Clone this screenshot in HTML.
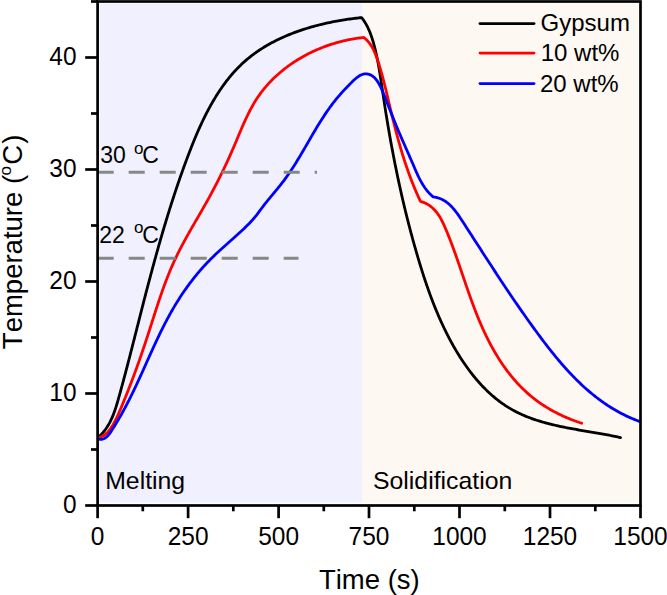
<!DOCTYPE html>
<html><head><meta charset="utf-8"><style>
html,body{margin:0;padding:0;background:#fff;width:667px;height:595px;overflow:hidden}
svg{display:block}
text{font-family:"Liberation Sans",sans-serif;fill:#000;font-kerning:none;font-feature-settings:"kern" 0}
</style></head><body>
<svg width="667" height="595" viewBox="0 0 667 595">
<rect x="0" y="0" width="667" height="595" fill="#fff"/>
<rect x="99.5" y="3.5" width="262.5" height="499" fill="#F0F0FE"/>
<rect x="362" y="3.5" width="276.5" height="499" fill="#FEF8F2"/>
<g font-size="23">
<text x="100.3" y="163.2">30</text><text x="133.9" y="153.6" font-size="17">o</text><text x="142.3" y="163.2">C</text>
<text x="99.3" y="243">22</text><text x="133.9" y="233.4" font-size="17">o</text><text x="142.3" y="243">C</text>
</g>
<g fill="none" stroke-width="2.8" stroke-linejoin="round" stroke-linecap="round">
<path stroke="#000" d="M98.80,436.80 L99.89,435.80 L100.94,434.77 L101.95,433.71 L102.92,432.63 L103.85,431.52 L104.75,430.38 L105.61,429.22 L106.44,428.03 L107.23,426.82 L107.99,425.60 L108.72,424.35 L109.43,423.08 L110.10,421.79 L110.75,420.48 L111.38,419.16 L111.98,417.82 L112.56,416.46 L113.12,415.10 L113.66,413.72 L114.18,412.32 L114.68,410.92 L115.17,409.51 L115.64,408.08 L116.11,406.65 L116.56,405.21 L116.99,403.77 L117.43,402.32 L117.85,400.86 L118.27,399.41 L118.68,397.95 L119.08,396.49 L119.49,395.02 L119.89,393.56 L120.30,392.10 L120.70,390.64 L121.10,389.18 L121.50,387.72 L121.89,386.26 L122.29,384.80 L122.68,383.34 L123.08,381.88 L123.47,380.42 L123.86,378.96 L124.25,377.49 L124.64,376.03 L125.02,374.57 L125.41,373.12 L125.79,371.66 L126.18,370.20 L126.56,368.74 L126.94,367.28 L127.32,365.82 L127.70,364.36 L128.08,362.90 L128.46,361.44 L128.84,359.98 L129.22,358.52 L129.59,357.06 L129.97,355.60 L130.34,354.15 L130.72,352.69 L131.09,351.23 L131.47,349.77 L131.84,348.31 L132.21,346.85 L132.58,345.39 L132.96,343.94 L133.33,342.48 L133.70,341.02 L134.07,339.56 L134.44,338.10 L134.81,336.65 L135.18,335.19 L135.55,333.73 L135.92,332.27 L136.29,330.82 L136.66,329.36 L137.03,327.90 L137.40,326.44 L137.77,324.98 L138.14,323.53 L138.51,322.07 L138.88,320.61 L139.25,319.15 L139.62,317.70 L139.99,316.24 L140.36,314.78 L140.73,313.32 L141.10,311.87 L141.48,310.41 L141.85,308.95 L142.22,307.49 L142.59,306.04 L142.97,304.58 L143.34,303.12 L143.72,301.66 L144.09,300.21 L144.47,298.75 L144.85,297.29 L145.22,295.84 L145.60,294.38 L145.98,292.92 L146.36,291.46 L146.74,290.01 L147.12,288.55 L147.50,287.09 L147.89,285.64 L148.27,284.18 L148.65,282.73 L149.04,281.27 L149.42,279.81 L149.81,278.36 L150.20,276.90 L150.59,275.45 L150.98,273.99 L151.37,272.54 L151.76,271.08 L152.15,269.63 L152.54,268.18 L152.94,266.72 L153.33,265.27 L153.73,263.82 L154.12,262.36 L154.52,260.91 L154.92,259.46 L155.32,258.01 L155.72,256.56 L156.13,255.11 L156.53,253.66 L156.94,252.21 L157.34,250.76 L157.75,249.31 L158.16,247.86 L158.57,246.41 L158.98,244.96 L159.39,243.52 L159.81,242.07 L160.22,240.62 L160.64,239.18 L161.06,237.73 L161.48,236.29 L161.90,234.84 L162.32,233.40 L162.74,231.96 L163.17,230.51 L163.60,229.07 L164.02,227.63 L164.45,226.19 L164.88,224.75 L165.32,223.31 L165.75,221.87 L166.19,220.43 L166.62,219.00 L167.06,217.56 L167.50,216.12 L167.95,214.69 L168.39,213.25 L168.84,211.82 L169.28,210.39 L169.73,208.95 L170.18,207.52 L170.64,206.09 L171.09,204.66 L171.55,203.23 L172.01,201.80 L172.47,200.38 L172.93,198.95 L173.39,197.52 L173.86,196.10 L174.32,194.67 L174.79,193.25 L175.27,191.83 L175.74,190.41 L176.21,188.98 L176.69,187.56 L177.17,186.15 L177.65,184.73 L178.14,183.31 L178.62,181.89 L179.11,180.48 L179.60,179.07 L180.09,177.65 L180.58,176.24 L181.08,174.83 L181.58,173.42 L182.08,172.01 L182.58,170.60 L183.09,169.20 L183.59,167.79 L184.10,166.39 L184.62,164.98 L185.13,163.58 L185.65,162.18 L186.17,160.78 L186.69,159.38 L187.21,157.98 L187.74,156.59 L188.26,155.19 L188.80,153.80 L189.33,152.40 L189.87,151.01 L190.41,149.62 L190.95,148.23 L191.49,146.84 L192.04,145.46 L192.60,144.07 L193.15,142.69 L193.72,141.31 L194.28,139.92 L194.85,138.55 L195.43,137.17 L196.01,135.79 L196.59,134.42 L197.18,133.04 L197.78,131.67 L198.38,130.30 L198.99,128.93 L199.60,127.57 L200.22,126.20 L200.84,124.84 L201.48,123.48 L202.11,122.12 L202.76,120.76 L203.41,119.40 L204.07,118.05 L204.74,116.70 L205.41,115.35 L206.09,114.00 L206.78,112.66 L207.48,111.32 L208.19,109.98 L208.90,108.64 L209.62,107.31 L210.35,105.99 L211.09,104.67 L211.83,103.35 L212.58,102.04 L213.35,100.73 L214.12,99.43 L214.90,98.14 L215.68,96.85 L216.48,95.56 L217.29,94.28 L218.10,93.01 L218.93,91.75 L219.76,90.49 L220.60,89.24 L221.46,88.00 L222.32,86.77 L223.19,85.54 L224.07,84.32 L224.97,83.12 L225.87,81.91 L226.78,80.72 L227.70,79.54 L228.63,78.37 L229.58,77.21 L230.53,76.05 L231.49,74.91 L232.47,73.78 L233.45,72.66 L234.45,71.55 L235.46,70.45 L236.48,69.36 L237.51,68.29 L238.55,67.22 L239.60,66.17 L240.67,65.13 L241.74,64.11 L242.83,63.09 L243.93,62.09 L245.04,61.11 L246.16,60.13 L247.30,59.17 L248.44,58.23 L249.60,57.29 L250.77,56.37 L251.94,55.46 L253.13,54.57 L254.33,53.68 L255.54,52.81 L256.76,51.96 L257.99,51.11 L259.23,50.28 L260.47,49.45 L261.73,48.65 L263.00,47.85 L264.27,47.06 L265.55,46.29 L266.85,45.53 L268.15,44.78 L269.45,44.04 L270.77,43.32 L272.09,42.60 L273.42,41.90 L274.76,41.21 L276.11,40.53 L277.46,39.86 L278.82,39.20 L280.19,38.55 L281.56,37.92 L282.94,37.29 L284.32,36.68 L285.72,36.08 L287.11,35.48 L288.51,34.90 L289.92,34.33 L291.33,33.77 L292.75,33.22 L294.17,32.68 L295.60,32.15 L297.03,31.63 L298.47,31.12 L299.91,30.62 L301.35,30.13 L302.80,29.65 L304.25,29.18 L305.70,28.72 L307.16,28.27 L308.62,27.83 L310.08,27.39 L311.55,26.97 L313.02,26.56 L314.49,26.15 L315.96,25.76 L317.43,25.37 L318.91,24.99 L320.39,24.63 L321.86,24.27 L323.34,23.92 L324.82,23.57 L326.31,23.24 L327.79,22.91 L329.27,22.60 L330.75,22.29 L332.23,21.99 L333.72,21.70 L335.20,21.41 L336.68,21.14 L338.16,20.87 L339.64,20.61 L341.12,20.36 L342.60,20.11 L344.07,19.88 L345.55,19.65 L347.02,19.43 L348.49,19.21 L349.96,19.00 L351.42,18.80 L352.89,18.61 L354.35,18.42 L355.80,18.25 L357.26,18.07 L358.71,17.91 L360.16,17.75 L361.60,17.60 L362.50,18.76 L363.37,19.94 L364.19,21.14 L364.98,22.37 L365.73,23.62 L366.45,24.89 L367.14,26.17 L367.80,27.48 L368.42,28.80 L369.02,30.13 L369.60,31.48 L370.14,32.85 L370.67,34.22 L371.17,35.61 L371.65,37.01 L372.11,38.42 L372.56,39.83 L372.99,41.25 L373.40,42.68 L373.80,44.12 L374.19,45.56 L374.57,47.00 L374.94,48.45 L375.29,49.89 L375.64,51.35 L375.98,52.80 L376.31,54.26 L376.63,55.73 L376.94,57.19 L377.24,58.66 L377.53,60.13 L377.82,61.60 L378.10,63.08 L378.38,64.56 L378.64,66.04 L378.91,67.52 L379.16,69.00 L379.41,70.49 L379.66,71.98 L379.90,73.47 L380.14,74.96 L380.38,76.45 L380.61,77.94 L380.84,79.44 L381.06,80.93 L381.29,82.43 L381.51,83.93 L381.73,85.42 L381.95,86.92 L382.17,88.42 L382.39,89.92 L382.61,91.42 L382.83,92.92 L383.05,94.41 L383.27,95.91 L383.49,97.41 L383.72,98.91 L383.94,100.40 L384.17,101.90 L384.40,103.40 L384.63,104.89 L384.86,106.39 L385.10,107.88 L385.33,109.38 L385.57,110.87 L385.80,112.37 L386.04,113.86 L386.28,115.36 L386.53,116.85 L386.77,118.34 L387.02,119.83 L387.26,121.33 L387.51,122.82 L387.76,124.31 L388.01,125.80 L388.27,127.29 L388.52,128.78 L388.78,130.27 L389.03,131.76 L389.29,133.25 L389.55,134.74 L389.82,136.22 L390.08,137.71 L390.35,139.20 L390.61,140.68 L390.88,142.17 L391.15,143.66 L391.43,145.14 L391.70,146.63 L391.98,148.11 L392.25,149.60 L392.53,151.08 L392.81,152.56 L393.10,154.04 L393.38,155.53 L393.67,157.01 L393.95,158.49 L394.24,159.97 L394.53,161.45 L394.83,162.93 L395.12,164.41 L395.42,165.89 L395.72,167.36 L396.02,168.84 L396.32,170.32 L396.62,171.79 L396.93,173.27 L397.23,174.75 L397.54,176.22 L397.85,177.70 L398.17,179.17 L398.48,180.64 L398.80,182.11 L399.12,183.59 L399.44,185.06 L399.76,186.53 L400.08,188.00 L400.41,189.47 L400.74,190.94 L401.07,192.41 L401.40,193.88 L401.73,195.34 L402.07,196.81 L402.41,198.28 L402.75,199.74 L403.09,201.21 L403.43,202.67 L403.78,204.14 L404.12,205.60 L404.47,207.06 L404.82,208.52 L405.18,209.98 L405.53,211.45 L405.89,212.91 L406.25,214.36 L406.61,215.82 L406.98,217.28 L407.34,218.74 L407.71,220.20 L408.08,221.65 L408.45,223.11 L408.83,224.56 L409.20,226.02 L409.58,227.47 L409.96,228.92 L410.35,230.37 L410.73,231.83 L411.12,233.28 L411.51,234.73 L411.90,236.18 L412.29,237.62 L412.69,239.07 L413.09,240.52 L413.49,241.97 L413.89,243.41 L414.29,244.86 L414.70,246.30 L415.11,247.74 L415.52,249.19 L415.93,250.63 L416.35,252.07 L416.77,253.51 L417.19,254.95 L417.61,256.39 L418.04,257.83 L418.46,259.27 L418.89,260.70 L419.32,262.14 L419.76,263.57 L420.20,265.01 L420.64,266.44 L421.08,267.87 L421.53,269.30 L421.98,270.73 L422.43,272.16 L422.88,273.59 L423.34,275.02 L423.80,276.45 L424.27,277.87 L424.74,279.29 L425.21,280.72 L425.69,282.14 L426.17,283.56 L426.65,284.98 L427.14,286.40 L427.64,287.81 L428.13,289.23 L428.64,290.64 L429.14,292.06 L429.65,293.47 L430.17,294.88 L430.69,296.29 L431.21,297.70 L431.74,299.10 L432.28,300.51 L432.82,301.91 L433.36,303.31 L433.91,304.71 L434.47,306.11 L435.03,307.51 L435.60,308.90 L436.17,310.30 L436.75,311.69 L437.33,313.08 L437.92,314.47 L438.52,315.85 L439.12,317.24 L439.73,318.62 L440.34,320.00 L440.96,321.38 L441.59,322.76 L442.23,324.14 L442.87,325.51 L443.51,326.88 L444.17,328.25 L444.83,329.62 L445.50,330.99 L446.17,332.35 L446.86,333.71 L447.55,335.07 L448.25,336.43 L448.95,337.79 L449.66,339.14 L450.38,340.49 L451.11,341.84 L451.85,343.18 L452.59,344.52 L453.34,345.86 L454.10,347.19 L454.87,348.52 L455.64,349.84 L456.42,351.16 L457.22,352.48 L458.01,353.79 L458.82,355.09 L459.63,356.39 L460.46,357.69 L461.29,358.97 L462.13,360.25 L462.97,361.53 L463.83,362.80 L464.69,364.06 L465.57,365.31 L466.45,366.56 L467.34,367.80 L468.23,369.03 L469.14,370.26 L470.05,371.47 L470.98,372.68 L471.91,373.88 L472.85,375.07 L473.80,376.25 L474.76,377.42 L475.73,378.58 L476.70,379.74 L477.69,380.88 L478.68,382.01 L479.69,383.13 L480.70,384.24 L481.72,385.34 L482.75,386.43 L483.79,387.51 L484.84,388.58 L485.90,389.63 L486.97,390.67 L488.04,391.70 L489.13,392.72 L490.23,393.73 L491.33,394.72 L492.45,395.70 L493.57,396.66 L494.71,397.62 L495.85,398.55 L497.00,399.48 L498.17,400.39 L499.34,401.28 L500.52,402.17 L501.72,403.03 L502.92,403.88 L504.13,404.72 L505.36,405.54 L506.59,406.34 L507.83,407.13 L509.09,407.90 L510.35,408.66 L511.62,409.40 L512.91,410.12 L514.20,410.82 L515.51,411.51 L516.82,412.18 L518.15,412.84 L519.48,413.48 L520.82,414.10 L522.17,414.71 L523.53,415.30 L524.90,415.88 L526.28,416.45 L527.66,417.00 L529.05,417.54 L530.45,418.06 L531.86,418.57 L533.27,419.07 L534.69,419.56 L536.12,420.03 L537.55,420.50 L538.99,420.95 L540.44,421.39 L541.89,421.82 L543.34,422.24 L544.80,422.65 L546.27,423.05 L547.74,423.44 L549.22,423.82 L550.69,424.19 L552.18,424.56 L553.66,424.91 L555.15,425.26 L556.65,425.60 L558.14,425.93 L559.64,426.26 L561.14,426.58 L562.64,426.89 L564.15,427.20 L565.66,427.50 L567.17,427.80 L568.68,428.09 L570.19,428.37 L571.70,428.66 L573.21,428.94 L574.72,429.21 L576.24,429.48 L577.75,429.75 L579.26,430.01 L580.77,430.28 L582.28,430.54 L583.79,430.80 L585.30,431.05 L586.81,431.31 L588.31,431.57 L589.82,431.82 L591.32,432.07 L592.82,432.33 L594.31,432.58 L595.81,432.84 L597.30,433.10 L598.78,433.35 L600.26,433.61 L601.74,433.87 L603.22,434.14 L604.69,434.41 L606.15,434.67 L607.61,434.95 L609.07,435.22 L610.52,435.50 L611.96,435.79 L613.40,436.08 L614.83,436.37 L616.26,436.67 L617.68,436.97 L619.09,437.28 L620.50,437.60"/>
<path stroke="#FF0000" d="M98.80,437.20 L100.26,436.91 L101.64,436.47 L102.93,435.89 L104.15,435.18 L105.29,434.36 L106.38,433.44 L107.40,432.44 L108.38,431.37 L109.30,430.24 L110.19,429.07 L111.05,427.87 L111.87,426.64 L112.66,425.38 L113.42,424.09 L114.16,422.78 L114.87,421.45 L115.56,420.10 L116.24,418.74 L116.89,417.36 L117.53,415.97 L118.16,414.57 L118.77,413.16 L119.38,411.75 L119.99,410.34 L120.59,408.93 L121.18,407.52 L121.78,406.11 L122.36,404.70 L122.95,403.30 L123.53,401.89 L124.11,400.48 L124.68,399.08 L125.26,397.67 L125.82,396.26 L126.39,394.86 L126.95,393.45 L127.51,392.05 L128.06,390.64 L128.61,389.24 L129.16,387.84 L129.71,386.43 L130.25,385.03 L130.79,383.62 L131.33,382.22 L131.86,380.81 L132.39,379.41 L132.92,378.00 L133.45,376.60 L133.97,375.19 L134.49,373.79 L135.01,372.38 L135.52,370.98 L136.04,369.57 L136.55,368.16 L137.05,366.75 L137.56,365.35 L138.06,363.94 L138.56,362.53 L139.06,361.12 L139.56,359.71 L140.05,358.30 L140.54,356.88 L141.03,355.47 L141.52,354.06 L142.01,352.64 L142.49,351.22 L142.97,349.81 L143.45,348.39 L143.93,346.97 L144.41,345.55 L144.88,344.13 L145.36,342.71 L145.83,341.28 L146.30,339.86 L146.77,338.43 L147.23,337.00 L147.70,335.57 L148.16,334.14 L148.63,332.71 L149.09,331.27 L149.55,329.84 L150.01,328.40 L150.47,326.97 L150.93,325.53 L151.39,324.09 L151.85,322.65 L152.31,321.21 L152.77,319.77 L153.23,318.33 L153.69,316.89 L154.15,315.45 L154.61,314.01 L155.08,312.57 L155.54,311.13 L156.01,309.69 L156.48,308.25 L156.95,306.81 L157.42,305.37 L157.90,303.94 L158.37,302.50 L158.85,301.06 L159.34,299.63 L159.82,298.19 L160.31,296.76 L160.80,295.33 L161.30,293.90 L161.80,292.47 L162.30,291.04 L162.80,289.62 L163.31,288.19 L163.83,286.77 L164.35,285.35 L164.87,283.93 L165.40,282.52 L165.93,281.10 L166.47,279.69 L167.02,278.29 L167.57,276.88 L168.12,275.48 L168.68,274.08 L169.25,272.68 L169.82,271.29 L170.40,269.89 L170.99,268.51 L171.58,267.12 L172.18,265.74 L172.79,264.36 L173.40,262.99 L174.02,261.62 L174.65,260.25 L175.29,258.89 L175.93,257.53 L176.58,256.18 L177.24,254.83 L177.90,253.48 L178.58,252.14 L179.25,250.79 L179.94,249.46 L180.63,248.12 L181.32,246.79 L182.02,245.46 L182.73,244.13 L183.44,242.81 L184.15,241.49 L184.87,240.17 L185.59,238.85 L186.32,237.53 L187.05,236.22 L187.79,234.91 L188.52,233.60 L189.26,232.29 L190.00,230.98 L190.75,229.67 L191.49,228.37 L192.24,227.06 L192.99,225.76 L193.74,224.46 L194.50,223.16 L195.25,221.85 L196.00,220.55 L196.76,219.25 L197.51,217.95 L198.27,216.65 L199.02,215.35 L199.77,214.05 L200.52,212.75 L201.28,211.44 L202.02,210.14 L202.77,208.84 L203.52,207.53 L204.26,206.23 L205.00,204.92 L205.74,203.61 L206.48,202.30 L207.21,200.99 L207.94,199.68 L208.67,198.37 L209.39,197.05 L210.11,195.73 L210.82,194.41 L211.53,193.09 L212.24,191.77 L212.95,190.45 L213.65,189.12 L214.35,187.79 L215.04,186.46 L215.73,185.13 L216.42,183.79 L217.11,182.46 L217.79,181.12 L218.46,179.78 L219.14,178.44 L219.81,177.10 L220.48,175.75 L221.14,174.40 L221.80,173.05 L222.46,171.70 L223.12,170.35 L223.77,168.99 L224.42,167.63 L225.06,166.27 L225.70,164.91 L226.34,163.55 L226.98,162.18 L227.61,160.81 L228.24,159.44 L228.86,158.07 L229.48,156.70 L230.10,155.32 L230.72,153.94 L231.33,152.56 L231.94,151.17 L232.55,149.79 L233.15,148.40 L233.75,147.01 L234.35,145.61 L234.95,144.22 L235.54,142.82 L236.13,141.42 L236.72,140.02 L237.30,138.62 L237.89,137.22 L238.48,135.81 L239.06,134.41 L239.65,133.01 L240.24,131.61 L240.84,130.21 L241.43,128.81 L242.03,127.42 L242.64,126.03 L243.25,124.64 L243.86,123.25 L244.48,121.87 L245.10,120.49 L245.74,119.12 L246.38,117.75 L247.02,116.38 L247.68,115.02 L248.35,113.67 L249.02,112.33 L249.71,110.99 L250.40,109.66 L251.11,108.33 L251.83,107.02 L252.56,105.71 L253.30,104.41 L254.06,103.12 L254.83,101.84 L255.62,100.57 L256.42,99.31 L257.24,98.06 L258.07,96.82 L258.92,95.59 L259.78,94.38 L260.66,93.17 L261.56,91.98 L262.47,90.80 L263.40,89.63 L264.34,88.47 L265.30,87.32 L266.27,86.18 L267.26,85.06 L268.26,83.94 L269.27,82.84 L270.30,81.75 L271.34,80.67 L272.39,79.61 L273.46,78.55 L274.54,77.51 L275.64,76.48 L276.74,75.46 L277.86,74.46 L278.99,73.46 L280.13,72.48 L281.28,71.51 L282.45,70.55 L283.63,69.61 L284.81,68.68 L286.01,67.75 L287.22,66.85 L288.44,65.95 L289.67,65.07 L290.91,64.20 L292.15,63.34 L293.41,62.50 L294.68,61.66 L295.96,60.84 L297.24,60.04 L298.54,59.24 L299.84,58.46 L301.15,57.69 L302.47,56.94 L303.80,56.20 L305.13,55.47 L306.47,54.75 L307.82,54.05 L309.18,53.36 L310.54,52.69 L311.91,52.03 L313.29,51.38 L314.67,50.74 L316.06,50.12 L317.46,49.51 L318.86,48.92 L320.26,48.34 L321.67,47.77 L323.09,47.22 L324.51,46.68 L325.93,46.15 L327.36,45.64 L328.80,45.14 L330.23,44.66 L331.67,44.19 L333.12,43.73 L334.57,43.29 L336.02,42.86 L337.47,42.45 L338.93,42.05 L340.39,41.66 L341.85,41.29 L343.31,40.94 L344.78,40.60 L346.24,40.27 L347.71,39.96 L349.18,39.66 L350.65,39.38 L352.12,39.11 L353.60,38.86 L355.07,38.62 L356.54,38.39 L358.01,38.19 L359.49,37.99 L360.96,37.81 L362.43,37.65 L363.90,37.50 L365.07,38.46 L366.17,39.47 L367.21,40.53 L368.19,41.62 L369.12,42.75 L369.99,43.92 L370.82,45.12 L371.60,46.36 L372.34,47.63 L373.04,48.92 L373.70,50.23 L374.32,51.57 L374.92,52.93 L375.49,54.31 L376.03,55.71 L376.56,57.11 L377.06,58.53 L377.55,59.96 L378.03,61.39 L378.49,62.83 L378.95,64.27 L379.40,65.72 L379.84,67.16 L380.27,68.62 L380.70,70.07 L381.12,71.53 L381.53,72.99 L381.94,74.45 L382.34,75.92 L382.73,77.39 L383.12,78.86 L383.50,80.33 L383.88,81.80 L384.26,83.28 L384.63,84.76 L385.00,86.24 L385.36,87.72 L385.72,89.20 L386.08,90.68 L386.43,92.16 L386.79,93.65 L387.14,95.13 L387.49,96.62 L387.84,98.10 L388.19,99.59 L388.54,101.07 L388.89,102.55 L389.24,104.04 L389.59,105.52 L389.94,107.01 L390.30,108.49 L390.65,109.97 L391.01,111.45 L391.36,112.93 L391.72,114.41 L392.08,115.89 L392.45,117.36 L392.81,118.84 L393.18,120.31 L393.54,121.79 L393.91,123.26 L394.29,124.73 L394.66,126.20 L395.04,127.67 L395.42,129.14 L395.80,130.61 L396.19,132.07 L396.58,133.54 L396.97,135.00 L397.36,136.46 L397.76,137.92 L398.16,139.38 L398.56,140.83 L398.97,142.29 L399.38,143.74 L399.80,145.19 L400.21,146.64 L400.64,148.09 L401.06,149.54 L401.49,150.98 L401.93,152.42 L402.37,153.86 L402.81,155.30 L403.26,156.74 L403.71,158.17 L404.16,159.61 L404.63,161.04 L405.09,162.46 L405.56,163.89 L406.04,165.31 L406.52,166.73 L407.01,168.15 L407.50,169.57 L407.99,170.98 L408.50,172.39 L409.01,173.80 L409.52,175.21 L410.04,176.61 L410.56,178.02 L411.10,179.41 L411.63,180.81 L412.18,182.20 L412.73,183.59 L413.28,184.98 L413.85,186.37 L414.42,187.75 L414.99,189.13 L415.58,190.50 L416.17,191.88 L416.76,193.25 L417.37,194.61 L417.98,195.98 L418.60,197.34 L419.22,198.70 L419.86,200.05 L420.50,201.40 L422.05,201.86 L423.53,202.38 L424.95,202.97 L426.31,203.62 L427.62,204.33 L428.86,205.09 L430.06,205.91 L431.20,206.79 L432.29,207.71 L433.34,208.68 L434.34,209.69 L435.30,210.75 L436.22,211.85 L437.11,212.98 L437.95,214.15 L438.77,215.35 L439.55,216.58 L440.30,217.84 L441.03,219.13 L441.73,220.43 L442.41,221.76 L443.07,223.10 L443.71,224.46 L444.33,225.84 L444.95,227.22 L445.55,228.61 L446.14,230.01 L446.72,231.41 L447.30,232.81 L447.87,234.21 L448.44,235.62 L449.00,237.03 L449.56,238.44 L450.11,239.85 L450.65,241.26 L451.20,242.68 L451.73,244.10 L452.26,245.52 L452.79,246.94 L453.32,248.36 L453.84,249.78 L454.36,251.21 L454.87,252.63 L455.38,254.06 L455.89,255.49 L456.39,256.92 L456.90,258.35 L457.40,259.78 L457.89,261.21 L458.39,262.64 L458.89,264.08 L459.38,265.51 L459.87,266.94 L460.36,268.38 L460.85,269.81 L461.34,271.25 L461.83,272.69 L462.31,274.12 L462.80,275.56 L463.29,276.99 L463.78,278.43 L464.27,279.86 L464.76,281.30 L465.24,282.74 L465.74,284.17 L466.23,285.60 L466.72,287.04 L467.22,288.47 L467.71,289.91 L468.21,291.34 L468.71,292.77 L469.22,294.20 L469.72,295.63 L470.23,297.06 L470.74,298.48 L471.26,299.91 L471.78,301.34 L472.30,302.76 L472.83,304.18 L473.36,305.60 L473.89,307.02 L474.43,308.44 L474.97,309.86 L475.52,311.27 L476.07,312.69 L476.63,314.10 L477.19,315.51 L477.76,316.91 L478.34,318.32 L478.92,319.72 L479.50,321.12 L480.10,322.52 L480.70,323.92 L481.30,325.31 L481.92,326.70 L482.54,328.09 L483.16,329.47 L483.80,330.86 L484.44,332.24 L485.09,333.61 L485.75,334.99 L486.41,336.35 L487.08,337.72 L487.76,339.08 L488.45,340.44 L489.15,341.79 L489.85,343.14 L490.56,344.48 L491.28,345.82 L492.01,347.15 L492.75,348.48 L493.49,349.80 L494.24,351.12 L495.01,352.43 L495.78,353.74 L496.56,355.04 L497.34,356.33 L498.14,357.62 L498.95,358.90 L499.76,360.17 L500.59,361.43 L501.42,362.69 L502.26,363.95 L503.12,365.19 L503.98,366.43 L504.85,367.65 L505.73,368.87 L506.62,370.09 L507.52,371.29 L508.43,372.49 L509.35,373.67 L510.28,374.85 L511.22,376.02 L512.17,377.18 L513.13,378.33 L514.11,379.47 L515.09,380.60 L516.08,381.72 L517.08,382.83 L518.10,383.94 L519.12,385.03 L520.16,386.11 L521.21,387.17 L522.26,388.23 L523.33,389.28 L524.41,390.32 L525.51,391.34 L526.61,392.35 L527.72,393.35 L528.85,394.34 L529.99,395.32 L531.14,396.28 L532.30,397.23 L533.47,398.17 L534.66,399.10 L535.86,400.01 L537.07,400.91 L538.29,401.80 L539.52,402.67 L540.76,403.53 L542.02,404.38 L543.28,405.22 L544.56,406.04 L545.84,406.84 L547.13,407.64 L548.44,408.42 L549.75,409.19 L551.07,409.94 L552.40,410.69 L553.73,411.42 L555.07,412.13 L556.42,412.83 L557.78,413.52 L559.15,414.20 L560.52,414.86 L561.89,415.51 L563.27,416.15 L564.66,416.77 L566.05,417.38 L567.45,417.97 L568.85,418.56 L570.26,419.13 L571.66,419.68 L573.08,420.22 L574.49,420.75 L575.91,421.27 L577.33,421.77 L578.75,422.26 L580.17,422.74 L581.60,423.20"/>
<path stroke="#0000FF" d="M98.80,439.20 L100.35,439.35 L101.78,439.27 L103.11,438.97 L104.34,438.48 L105.48,437.81 L106.55,436.99 L107.56,436.04 L108.51,434.98 L109.41,433.83 L110.28,432.62 L111.12,431.36 L111.95,430.08 L112.77,428.79 L113.58,427.51 L114.39,426.21 L115.19,424.92 L115.98,423.62 L116.77,422.32 L117.55,421.01 L118.32,419.71 L119.09,418.39 L119.85,417.08 L120.61,415.77 L121.36,414.45 L122.10,413.12 L122.83,411.80 L123.56,410.47 L124.29,409.14 L125.00,407.81 L125.71,406.48 L126.42,405.14 L127.12,403.80 L127.81,402.46 L128.50,401.12 L129.18,399.78 L129.86,398.43 L130.54,397.08 L131.20,395.73 L131.87,394.38 L132.53,393.03 L133.19,391.68 L133.84,390.32 L134.49,388.96 L135.13,387.60 L135.78,386.24 L136.42,384.88 L137.05,383.52 L137.69,382.16 L138.32,380.79 L138.95,379.43 L139.57,378.07 L140.20,376.70 L140.82,375.33 L141.44,373.97 L142.06,372.60 L142.68,371.23 L143.30,369.86 L143.91,368.49 L144.53,367.13 L145.14,365.76 L145.76,364.39 L146.37,363.02 L146.98,361.65 L147.60,360.28 L148.21,358.91 L148.83,357.55 L149.44,356.18 L150.06,354.81 L150.68,353.45 L151.29,352.08 L151.91,350.72 L152.54,349.35 L153.16,347.99 L153.78,346.63 L154.41,345.27 L155.04,343.91 L155.67,342.55 L156.31,341.19 L156.94,339.84 L157.58,338.48 L158.23,337.13 L158.87,335.78 L159.52,334.43 L160.18,333.08 L160.84,331.74 L161.50,330.39 L162.16,329.05 L162.83,327.71 L163.51,326.37 L164.19,325.03 L164.87,323.70 L165.56,322.37 L166.26,321.04 L166.96,319.71 L167.67,318.39 L168.38,317.07 L169.10,315.75 L169.82,314.43 L170.55,313.12 L171.29,311.81 L172.04,310.50 L172.79,309.20 L173.54,307.90 L174.31,306.60 L175.08,305.30 L175.86,304.01 L176.65,302.73 L177.45,301.44 L178.25,300.16 L179.06,298.88 L179.88,297.61 L180.71,296.34 L181.54,295.08 L182.38,293.82 L183.23,292.57 L184.09,291.32 L184.95,290.07 L185.82,288.83 L186.70,287.59 L187.59,286.36 L188.48,285.14 L189.39,283.92 L190.29,282.71 L191.21,281.50 L192.13,280.30 L193.06,279.10 L194.00,277.91 L194.95,276.73 L195.90,275.55 L196.86,274.38 L197.83,273.22 L198.80,272.06 L199.78,270.91 L200.77,269.77 L201.77,268.64 L202.77,267.51 L203.78,266.39 L204.80,265.27 L205.83,264.17 L206.86,263.07 L207.90,261.98 L208.95,260.90 L210.00,259.83 L211.06,258.77 L212.13,257.71 L213.20,256.66 L214.28,255.62 L215.37,254.58 L216.46,253.55 L217.55,252.53 L218.65,251.51 L219.75,250.50 L220.86,249.49 L221.97,248.48 L223.08,247.48 L224.19,246.48 L225.31,245.48 L226.43,244.48 L227.55,243.49 L228.66,242.49 L229.78,241.50 L230.90,240.51 L232.02,239.51 L233.14,238.52 L234.26,237.52 L235.37,236.52 L236.48,235.52 L237.59,234.52 L238.70,233.51 L239.80,232.50 L240.90,231.49 L242.00,230.47 L243.09,229.45 L244.18,228.42 L245.26,227.38 L246.33,226.34 L247.40,225.28 L248.45,224.22 L249.50,223.15 L250.53,222.06 L251.55,220.97 L252.55,219.86 L253.54,218.73 L254.52,217.59 L255.47,216.44 L256.41,215.26 L257.33,214.07 L258.24,212.87 L259.14,211.66 L260.03,210.44 L260.93,209.23 L261.83,208.01 L262.74,206.81 L263.66,205.61 L264.58,204.42 L265.52,203.24 L266.46,202.06 L267.41,200.89 L268.36,199.72 L269.31,198.55 L270.27,197.39 L271.23,196.23 L272.20,195.07 L273.16,193.91 L274.12,192.75 L275.09,191.59 L276.05,190.43 L277.00,189.27 L277.95,188.11 L278.90,186.94 L279.85,185.77 L280.78,184.59 L281.71,183.41 L282.63,182.22 L283.54,181.03 L284.44,179.83 L285.33,178.62 L286.22,177.41 L287.09,176.18 L287.95,174.96 L288.81,173.72 L289.66,172.48 L290.50,171.24 L291.33,169.99 L292.16,168.73 L292.98,167.47 L293.79,166.21 L294.60,164.94 L295.40,163.67 L296.19,162.39 L296.99,161.11 L297.77,159.83 L298.55,158.54 L299.33,157.25 L300.10,155.96 L300.87,154.66 L301.64,153.36 L302.41,152.06 L303.17,150.76 L303.93,149.46 L304.69,148.16 L305.44,146.85 L306.20,145.55 L306.95,144.24 L307.71,142.94 L308.46,141.63 L309.21,140.33 L309.97,139.02 L310.72,137.72 L311.48,136.41 L312.24,135.11 L313.00,133.81 L313.76,132.51 L314.53,131.21 L315.29,129.92 L316.06,128.63 L316.84,127.34 L317.62,126.05 L318.40,124.77 L319.18,123.49 L319.98,122.21 L320.77,120.94 L321.57,119.67 L322.38,118.41 L323.19,117.15 L324.01,115.89 L324.84,114.64 L325.68,113.40 L326.52,112.16 L327.37,110.93 L328.22,109.70 L329.09,108.48 L329.96,107.27 L330.85,106.06 L331.74,104.86 L332.64,103.67 L333.55,102.49 L334.48,101.31 L335.41,100.14 L336.35,98.98 L337.31,97.83 L338.28,96.68 L339.26,95.55 L340.25,94.41 L341.25,93.29 L342.27,92.16 L343.30,91.04 L344.34,89.92 L345.39,88.80 L346.46,87.67 L347.54,86.55 L348.64,85.42 L349.75,84.28 L350.87,83.14 L352.01,82.00 L353.16,80.87 L354.32,79.77 L355.50,78.72 L356.70,77.73 L357.90,76.82 L359.12,76.00 L360.36,75.30 L361.60,74.71 L362.86,74.27 L364.13,73.98 L365.41,73.85 L366.68,73.87 L367.95,74.05 L369.19,74.37 L370.40,74.84 L371.58,75.46 L372.72,76.22 L373.81,77.10 L374.85,78.10 L375.84,79.20 L376.77,80.39 L377.65,81.65 L378.48,82.97 L379.27,84.35 L380.02,85.78 L380.73,87.23 L381.41,88.71 L382.07,90.21 L382.70,91.71 L383.32,93.20 L383.93,94.67 L384.53,96.14 L385.11,97.59 L385.69,99.02 L386.26,100.45 L386.82,101.86 L387.37,103.27 L387.92,104.66 L388.46,106.05 L389.00,107.43 L389.54,108.81 L390.07,110.18 L390.61,111.54 L391.14,112.90 L391.67,114.26 L392.21,115.62 L392.74,116.98 L393.28,118.34 L393.83,119.70 L394.38,121.06 L394.93,122.43 L395.49,123.80 L396.06,125.17 L396.63,126.54 L397.20,127.91 L397.78,129.29 L398.36,130.67 L398.95,132.05 L399.54,133.43 L400.13,134.82 L400.73,136.20 L401.33,137.59 L401.93,138.98 L402.53,140.37 L403.14,141.76 L403.74,143.15 L404.35,144.54 L404.96,145.93 L405.57,147.32 L406.18,148.72 L406.80,150.11 L407.41,151.50 L408.02,152.90 L408.63,154.29 L409.24,155.68 L409.85,157.08 L410.46,158.47 L411.07,159.86 L411.68,161.25 L412.28,162.64 L412.89,164.03 L413.49,165.42 L414.08,166.81 L414.68,168.19 L415.28,169.57 L415.88,170.95 L416.49,172.32 L417.11,173.69 L417.73,175.05 L418.37,176.40 L419.02,177.74 L419.69,179.06 L420.38,180.38 L421.09,181.68 L421.82,182.97 L422.58,184.24 L423.36,185.50 L424.17,186.74 L425.02,187.96 L425.90,189.16 L426.82,190.34 L427.77,191.49 L428.77,192.63 L429.81,193.73 L430.89,194.82 L432.02,195.87 L433.20,196.90 L434.76,197.11 L436.26,197.41 L437.71,197.78 L439.11,198.22 L440.47,198.74 L441.78,199.32 L443.06,199.97 L444.29,200.67 L445.48,201.43 L446.64,202.25 L447.76,203.12 L448.85,204.03 L449.91,204.99 L450.94,205.99 L451.95,207.04 L452.93,208.11 L453.88,209.22 L454.82,210.36 L455.74,211.53 L456.64,212.72 L457.52,213.93 L458.40,215.17 L459.26,216.41 L460.11,217.67 L460.95,218.95 L461.79,220.22 L462.62,221.51 L463.46,222.79 L464.29,224.07 L465.12,225.35 L465.94,226.64 L466.77,227.92 L467.60,229.20 L468.43,230.48 L469.25,231.76 L470.08,233.04 L470.90,234.32 L471.73,235.59 L472.55,236.87 L473.38,238.15 L474.20,239.42 L475.02,240.70 L475.84,241.97 L476.67,243.25 L477.49,244.52 L478.31,245.80 L479.13,247.07 L479.95,248.34 L480.77,249.61 L481.59,250.88 L482.42,252.15 L483.24,253.42 L484.06,254.69 L484.88,255.96 L485.70,257.23 L486.52,258.49 L487.34,259.76 L488.17,261.03 L488.99,262.29 L489.81,263.56 L490.63,264.82 L491.46,266.08 L492.28,267.35 L493.10,268.61 L493.93,269.87 L494.75,271.13 L495.58,272.39 L496.40,273.65 L497.23,274.91 L498.06,276.16 L498.89,277.42 L499.72,278.68 L500.55,279.93 L501.38,281.19 L502.21,282.44 L503.04,283.70 L503.87,284.95 L504.71,286.20 L505.54,287.45 L506.38,288.71 L507.22,289.96 L508.06,291.21 L508.90,292.45 L509.74,293.70 L510.58,294.95 L511.42,296.20 L512.27,297.44 L513.11,298.69 L513.96,299.93 L514.81,301.18 L515.66,302.42 L516.51,303.66 L517.37,304.90 L518.22,306.14 L519.08,307.38 L519.94,308.62 L520.80,309.86 L521.66,311.10 L522.52,312.33 L523.39,313.57 L524.25,314.81 L525.12,316.04 L525.99,317.28 L526.87,318.51 L527.74,319.74 L528.62,320.97 L529.50,322.20 L530.38,323.43 L531.26,324.66 L532.15,325.89 L533.04,327.12 L533.93,328.34 L534.82,329.57 L535.71,330.80 L536.61,332.02 L537.51,333.24 L538.41,334.47 L539.32,335.69 L540.22,336.91 L541.13,338.12 L542.05,339.34 L542.96,340.55 L543.88,341.77 L544.80,342.98 L545.73,344.18 L546.66,345.39 L547.59,346.59 L548.53,347.79 L549.46,348.99 L550.41,350.18 L551.35,351.37 L552.30,352.56 L553.26,353.74 L554.21,354.92 L555.18,356.10 L556.14,357.27 L557.11,358.44 L558.08,359.60 L559.06,360.76 L560.05,361.92 L561.03,363.07 L562.02,364.22 L563.02,365.36 L564.02,366.49 L565.03,367.63 L566.04,368.75 L567.05,369.87 L568.07,370.99 L569.10,372.09 L570.13,373.20 L571.17,374.29 L572.21,375.39 L573.25,376.47 L574.31,377.55 L575.36,378.62 L576.43,379.68 L577.50,380.74 L578.57,381.79 L579.65,382.83 L580.74,383.87 L581.83,384.90 L582.93,385.92 L584.04,386.93 L585.15,387.94 L586.26,388.93 L587.39,389.92 L588.52,390.90 L589.66,391.87 L590.80,392.84 L591.95,393.79 L593.11,394.74 L594.27,395.67 L595.44,396.60 L596.62,397.52 L597.81,398.42 L599.00,399.32 L600.20,400.21 L601.41,401.09 L602.62,401.96 L603.85,402.82 L605.08,403.67 L606.32,404.50 L607.56,405.33 L608.81,406.15 L610.08,406.95 L611.35,407.75 L612.62,408.53 L613.91,409.30 L615.20,410.06 L616.51,410.81 L617.82,411.54 L619.14,412.27 L620.46,412.98 L621.80,413.68 L623.15,414.37 L624.50,415.04 L625.86,415.71 L627.24,416.36 L628.62,416.99 L630.01,417.62 L631.41,418.23 L632.81,418.82 L634.23,419.41 L635.66,419.98 L637.10,420.53 L638.54,421.07 L640.00,421.60"/>
</g>
<g stroke="#878787" stroke-width="3" stroke-dasharray="16 15" fill="none">
<line x1="97.7" y1="172.2" x2="317" y2="172.2"/>
<line x1="97.7" y1="258.3" x2="298.5" y2="258.3"/>
</g>
<g stroke="#000" stroke-width="2.7" fill="none">
<rect x="97.6" y="1.5" width="542.9" height="504.0"/>
<line x1="97.6" y1="505" x2="97.6" y2="518.2"/><line x1="188.1" y1="505" x2="188.1" y2="518.2"/><line x1="278.6" y1="505" x2="278.6" y2="518.2"/><line x1="369.0" y1="505" x2="369.0" y2="518.2"/><line x1="459.5" y1="505" x2="459.5" y2="518.2"/><line x1="550.0" y1="505" x2="550.0" y2="518.2"/><line x1="640.5" y1="505" x2="640.5" y2="518.2"/><line x1="142.8" y1="505" x2="142.8" y2="511.3"/><line x1="233.3" y1="505" x2="233.3" y2="511.3"/><line x1="323.8" y1="505" x2="323.8" y2="511.3"/><line x1="414.3" y1="505" x2="414.3" y2="511.3"/><line x1="504.8" y1="505" x2="504.8" y2="511.3"/><line x1="595.3" y1="505" x2="595.3" y2="511.3"/><line x1="85.2" y1="505.5" x2="98" y2="505.5"/><line x1="85.2" y1="393.5" x2="98" y2="393.5"/><line x1="85.2" y1="281.5" x2="98" y2="281.5"/><line x1="85.2" y1="169.5" x2="98" y2="169.5"/><line x1="85.2" y1="57.5" x2="98" y2="57.5"/><line x1="91" y1="449.5" x2="98" y2="449.5"/><line x1="91" y1="337.5" x2="98" y2="337.5"/><line x1="91" y1="225.5" x2="98" y2="225.5"/><line x1="91" y1="113.5" x2="98" y2="113.5"/><line x1="91" y1="1.5" x2="98" y2="1.5"/>
</g>
<g stroke-width="2.9" fill="none" stroke-linecap="round">
<line x1="480" y1="23.6" x2="534" y2="23.6" stroke="#000"/>
<line x1="480" y1="53.1" x2="534" y2="53.1" stroke="#FF0000"/>
<line x1="480" y1="83.6" x2="534" y2="83.6" stroke="#0000FF"/>
</g>
<g font-size="24">
<text x="540.6" y="30.7">Gypsum</text>
<text x="540.7" y="61.4">10 wt%</text>
<text x="540" y="91.6">20 wt%</text>
</g>
<g font-size="24.8">
<text x="105.2" y="489.3">Melting</text>
<text x="373" y="489.3">Solidification</text>
</g>
<g font-size="24.5">
<text transform="translate(97.6,545.3) scale(1,1.045)" text-anchor="middle">0</text><text transform="translate(188.1,545.3) scale(1,1.045)" text-anchor="middle">250</text><text transform="translate(278.6,545.3) scale(1,1.045)" text-anchor="middle">500</text><text transform="translate(369.0,545.3) scale(1,1.045)" text-anchor="middle">750</text><text transform="translate(459.5,545.3) scale(1,1.045)" text-anchor="middle">1000</text><text transform="translate(550.0,545.3) scale(1,1.045)" text-anchor="middle">1250</text><text transform="translate(640.5,545.3) scale(1,1.045)" text-anchor="middle">1500</text>
<text transform="translate(76.6,512.8) scale(1,1.045)" text-anchor="end">0</text><text transform="translate(76.6,400.8) scale(1,1.045)" text-anchor="end">10</text><text transform="translate(76.6,288.8) scale(1,1.045)" text-anchor="end">20</text><text transform="translate(76.6,176.8) scale(1,1.045)" text-anchor="end">30</text><text transform="translate(76.6,64.8) scale(1,1.045)" text-anchor="end">40</text>
</g>
<g font-size="27.5">
<text x="318.95" y="589.1">Time (s)</text>
<g transform="translate(22.2,349.15) rotate(-90)">
<text x="0" y="0">Temperature (</text>
<text x="173.7" y="-11.1" font-size="17">o</text>
<text x="184.4" y="0">C</text>
<text x="205.3" y="0">)</text>
</g>
</g>
</svg>
</body></html>
